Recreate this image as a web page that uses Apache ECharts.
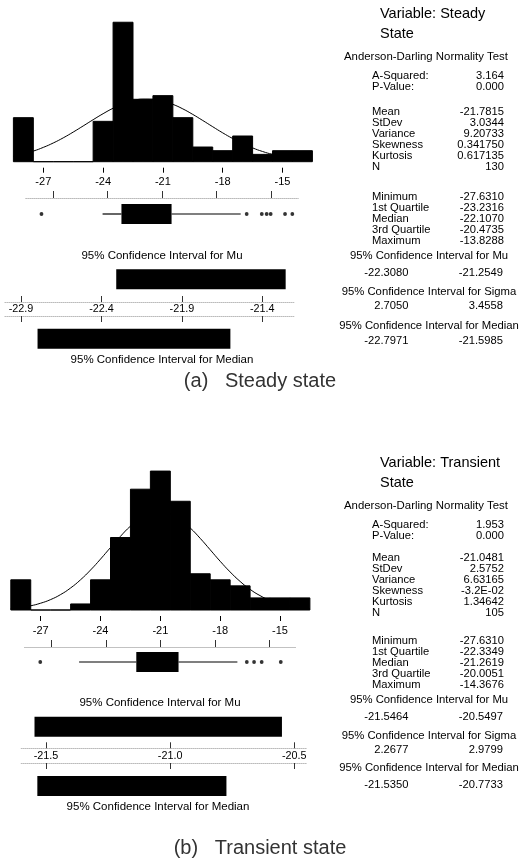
<!DOCTYPE html>
<html><head><meta charset="utf-8">
<script src="https://cdn.jsdelivr.net/npm/echarts@6/dist/echarts.min.js"></script>
<style>html,body{margin:0;padding:0;background:#fff}#c{width:519px;height:867px}</style>
</head><body><div id="c"></div>
<script>
// ---------- data ----------
const binCenters = [-28,-27,-26,-25,-24,-23,-22,-21,-20,-19,-18,-17,-16,-15,-14];
const binWidth = 1;
const countsA = [12,0,0,0,11,38,17,18,12,4,3,7,2,3,3];
const countsB = [5,0,0,1,5,12,20,23,18,6,5,4,2,2,2];

// fitted normal curve (counts), read at half-unit steps
const curveXs = [-28.5,-28,-27.5,-27,-26.5,-26,-25.5,-25,-24.5,-24,-23.5,-23,-22.5,-22,-21.5,-21,-20.5,-20,-19.5,-19,-18.5,-18,-17.5,-17,-16.5,-16,-15.5,-15,-14.5,-14,-13.5];
const curveA = [1.47,2.09,2.89,3.90,5.10,6.50,8.07,9.74,11.44,13.08,14.56,15.77,16.62,17.05,17.02,16.53,15.63,14.39,12.88,11.23,9.53,7.86,6.32,4.94,3.76,2.78,2.00,1.41,0.96,0.64,0.41];
const curveB = [0.25,0.43,0.70,1.13,1.73,2.56,3.65,5.01,6.62,8.43,10.34,12.20,13.88,15.19,16.02,16.26,15.90,14.97,13.58,11.86,9.97,8.07,6.30,4.73,3.42,2.38,1.60,1.03,0.64,0.38,0.22];

// box plots: [lower whisker, Q1, median, Q3, upper whisker]
const boxA = [-24.27,-23.2316,-22.1070,-20.4735,-16.67];
const outliersA = [-27.631,-16.34,-15.51,-15.24,-15.02,-14.23,-13.8288];
const boxB = [-25.49,-22.3349,-21.2619,-20.0051,-16.76];
const outliersB = [-27.631,-16.24,-15.84,-15.42,-14.3676];

// confidence intervals
const muCIA = [-22.3080,-21.2549];
const medCIA = [-22.7971,-21.5985];
const muCIB = [-21.5464,-20.5497];
const medCIB = [-21.5350,-20.7733];

// tick labels
const histTicks = [-27,-24,-21,-18,-15];
const ciTicksA = [-22.9,-22.4,-21.9,-21.4];
const ciTicksB = [-21.5,-21.0,-20.5];

// text panel
const titleA = ['Variable: Steady','State'];
const titleB = ['Variable: Transient','State'];
const adHeader = 'Anderson-Darling Normality Test';
const adLabels = ['A-Squared:','P-Value:'];
const adValuesA = ['3.164','0.000'];
const adValuesB = ['1.953','0.000'];
const momentLabels = ['Mean','StDev','Variance','Skewness','Kurtosis','N'];
const momentValuesA = ['-21.7815','3.0344','9.20733','0.341750','0.617135','130'];
const momentValuesB = ['-21.0481','2.5752','6.63165','-3.2E-02','1.34642','105'];
const quartLabels = ['Minimum','1st Quartile','Median','3rd Quartile','Maximum'];
const quartValuesA = ['-27.6310','-23.2316','-22.1070','-20.4735','-13.8288'];
const quartValuesB = ['-27.6310','-22.3349','-21.2619','-20.0051','-14.3676'];
const ciHeaders = ['95% Confidence Interval for Mu','95% Confidence Interval for Sigma','95% Confidence Interval for Median'];
const ciValuesA = [['-22.3080','-21.2549'],['2.7050','3.4558'],['-22.7971','-21.5985']];
const ciValuesB = [['-21.5464','-20.5497'],['2.2677','2.9799'],['-21.5350','-20.7733']];
const leftLabels = ['95% Confidence Interval for Mu','95% Confidence Interval for Median'];
const captions = ['(a)   Steady state','(b)   Transient state'];

// ---------- helpers ----------
const FONT = '"Liberation Sans", Arial, sans-serif';
function histRender(params, api){
  const p0 = api.coord([api.value(0), api.value(2)]);
  const p1 = api.coord([api.value(1), 0]);
  return {type:'rect', shape:{x:p0[0], y:p0[1], width:p1[0]-p0[0], height:p1[1]-p0[1]},
    style:{fill:'#000', stroke:'#000', lineWidth:1}};
}
function barRender(params, api){
  const p0 = api.coord([api.value(0), api.value(2)]);
  const p1 = api.coord([api.value(1), api.value(2)]);
  return {type:'rect', shape:{x:p0[0], y:p0[1]-10, width:p1[0]-p0[0], height:20}, style:{fill:'#000'}};
}
function boxRender(params, api){
  const y = 0.5;
  const w0 = api.coord([api.value(0), y]), q1 = api.coord([api.value(1), y]);
  const q3 = api.coord([api.value(3), y]), w1 = api.coord([api.value(4), y]);
  return {type:'group', children:[
    {type:'line', shape:{x1:w0[0], y1:w0[1], x2:q1[0], y2:q1[1]}, style:{stroke:'#000', lineWidth:1.2}},
    {type:'rect', shape:{x:q1[0], y:q1[1]-10, width:q3[0]-q1[0], height:20}, style:{fill:'#000'}},
    {type:'line', shape:{x1:q3[0], y1:q3[1], x2:w1[0], y2:w1[1]}, style:{stroke:'#000', lineWidth:1.2}}
  ]};
}
const histData = counts => binCenters.map((c,i)=>[c-binWidth/2, c+binWidth/2, counts[i]]);
const curveData = ys => curveXs.map((x,i)=>[x, ys[i]]);

const faintLine = {show:true, onZero:false, lineStyle:{color:'#bbb', type:'dotted', width:1}};

const grids = [
  {left:13.4, width:299, top:14.9, height:146.8},   // 0 hist A
  {left:25.7, width:272.6, top:198, height:32},     // 1 box A
  {left:4.9, width:289.6, top:256.6, height:45.4},  // 2 mu CI A
  {left:4.9, width:289.6, top:316, height:45.4},    // 3 median CI A
  {left:10.8, width:299.1, top:459, height:151},    // 4 hist B
  {left:24.5, width:272, top:647, height:30},       // 5 box B
  {left:21.2, width:285.5, top:705.1, height:43.2}, // 6 mu CI B
  {left:21.2, width:285.5, top:763, height:46}      // 7 median CI B
];

function histX(gi){
  return {gridIndex:gi, type:'value', min:-28.5, max:-13.5, offset:6,
    axisLine:{show:false, onZero:false}, splitLine:{show:false},
    axisTick:{customValues:histTicks, length:5, lineStyle:{color:'#000'}},
    axisLabel:{customValues:histTicks, margin:9, formatter:v=>String(v), fontFamily:FONT, fontSize:11, color:'#000'}};
}
function boxX(gi){
  return {gridIndex:gi, type:'value', min:-28.5, max:-13.5, position:'top',
    axisLine:faintLine, splitLine:{show:false},
    axisTick:{customValues:histTicks, length:7, lineStyle:{color:'#333'}},
    axisLabel:{show:false}};
}
function ciX(gi, min, max, ticks, showLabels){
  return {gridIndex:gi, type:'value', min:min, max:max, position: showLabels ? 'bottom' : 'top',
    axisLine:faintLine, splitLine:{show:false},
    axisTick:{customValues:ticks, inside:true, length:6, lineStyle:{color:'#333'}},
    axisLabel:{show:showLabels, customValues:ticks, margin:2, formatter:v=>v.toFixed(1), fontFamily:FONT, fontSize:10.8, color:'#000'}};
}
const xAxes = [
  histX(0), boxX(1), ciX(2,-23.0,-21.2,ciTicksA,true), ciX(3,-23.0,-21.2,ciTicksA,false),
  histX(4), boxX(5), ciX(6,-21.6,-20.45,ciTicksB,true), ciX(7,-21.6,-20.45,ciTicksB,false)
];
const yAxes = grids.map((g,i)=>({gridIndex:i, type:'value', show:false, min:0,
  max: i===0 ? 40 : (i===4 ? 25 : 1)}));

const series = [
  {type:'custom', xAxisIndex:0, yAxisIndex:0, renderItem:histRender, encode:{x:[0,1], y:2}, data:histData(countsA), z:2},
  {type:'line', xAxisIndex:0, yAxisIndex:0, data:curveData(curveA), smooth:true, symbol:'none', lineStyle:{color:'#000', width:1}, z:3},
  {type:'custom', xAxisIndex:1, yAxisIndex:1, renderItem:boxRender, encode:{x:[0,1,2,3,4]}, data:[boxA]},
  {type:'scatter', xAxisIndex:1, yAxisIndex:1, data:outliersA.map(v=>[v,0.5]), symbolSize:3.8, itemStyle:{color:'#000'}},
  {type:'custom', xAxisIndex:2, yAxisIndex:2, renderItem:barRender, encode:{x:[0,1], y:2}, data:[[muCIA[0], muCIA[1], 0.5]]},
  {type:'custom', xAxisIndex:3, yAxisIndex:3, renderItem:barRender, encode:{x:[0,1], y:2}, data:[[medCIA[0], medCIA[1], 0.5]]},
  {type:'custom', xAxisIndex:4, yAxisIndex:4, renderItem:histRender, encode:{x:[0,1], y:2}, data:histData(countsB), z:2},
  {type:'line', xAxisIndex:4, yAxisIndex:4, data:curveData(curveB), smooth:true, symbol:'none', lineStyle:{color:'#000', width:1}, z:3},
  {type:'custom', xAxisIndex:5, yAxisIndex:5, renderItem:boxRender, encode:{x:[0,1,2,3,4]}, data:[boxB]},
  {type:'scatter', xAxisIndex:5, yAxisIndex:5, data:outliersB.map(v=>[v,0.5]), symbolSize:3.8, itemStyle:{color:'#000'}},
  {type:'custom', xAxisIndex:6, yAxisIndex:6, renderItem:barRender, encode:{x:[0,1], y:2}, data:[[muCIB[0], muCIB[1], 0.5]]},
  {type:'custom', xAxisIndex:7, yAxisIndex:7, renderItem:barRender, encode:{x:[0,1], y:2}, data:[[medCIB[0], medCIB[1], 0.5]]}
];

// ---------- text ----------
const G = [];
function txt(s, x, y, size, align, fill){
  G.push({type:'text', x:x, y:y, silent:true, style:{text:s, font:size+'px '+FONT, fill:fill||'#000',
    align:align, verticalAlign:'middle', textAlign:align, textVerticalAlign:'middle'}});
}
const FS = 11.2;
function panel(title, adV, momV, quartV, ciV, pos){
  txt(title[0], 380, pos.title, 14.5, 'left');
  txt(title[1], 380, pos.title + 20, 14.5, 'left');
  txt(adHeader, 426, pos.ad, 11.4, 'center');
  adLabels.forEach((l,i)=>{ txt(l, 372, pos.ad+19+i*11, FS, 'left'); txt(adV[i], 504, pos.ad+19+i*11, FS, 'right'); });
  momentLabels.forEach((l,i)=>{ txt(l, 372, pos.mom+i*11, FS, 'left'); txt(momV[i], 504, pos.mom+i*11, FS, 'right'); });
  quartLabels.forEach((l,i)=>{ txt(l, 372, pos.quart+i*11, FS, 'left'); txt(quartV[i], 504, pos.quart+i*11, FS, 'right'); });
  ciHeaders.forEach((h,i)=>{
    txt(h, 429, pos.ci[i], 11.3, 'center');
    txt(ciV[i][0], 408.5, pos.ciV[i], FS, 'right');
    txt(ciV[i][1], 503, pos.ciV[i], FS, 'right');
  });
}
panel(titleA, adValuesA, momentValuesA, quartValuesA, ciValuesA,
  {title:14, ad:57, mom:112, quart:197, ci:[256,292,326], ciV:[273,306,341]});
panel(titleB, adValuesB, momentValuesB, quartValuesB, ciValuesB,
  {title:463, ad:506, mom:558, quart:641, ci:[700,736,768], ciV:[717,750,785]});
txt(leftLabels[0], 162, 255.7, 11.5, 'center');
txt(leftLabels[1], 162, 360, 11.5, 'center');
txt(leftLabels[0], 160, 703.3, 11.5, 'center');
txt(leftLabels[1], 158, 806.7, 11.5, 'center');
txt(captions[0], 260, 381, 20, 'center', '#333');
txt(captions[1], 260, 848, 20, 'center', '#333');

const chart = echarts.init(document.getElementById('c'), null, {renderer:'canvas'});
chart.setOption({animation:false, backgroundColor:'#fff', grid:grids, xAxis:xAxes, yAxis:yAxes, series:series, graphic:G});
</script></body></html>
